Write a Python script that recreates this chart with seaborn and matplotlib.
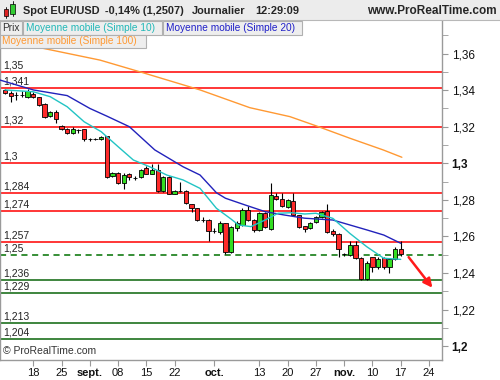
import numpy as np
import pandas as pd
import matplotlib
matplotlib.use('Agg')
import matplotlib.pyplot as plt
from matplotlib.patches import Rectangle
from matplotlib.ticker import FixedLocator, MultipleLocator
import seaborn as sns

# daily candles, EUR/USD, from 2014-08-11
start_date = '2014-08-11'
opens = [1.3401, 1.3383, 1.3373, 1.3373, 1.3364, 1.3378, 1.3360, 1.3324, 1.3260, 1.3279,
         1.3205, 1.3187, 1.3164, 1.3181, 1.3185, 1.3131, 1.3131, 1.3131, 1.3149, 1.2930,
         1.2949, 1.2890, 1.2942, 1.2921, 1.2923, 1.2976, 1.2942, 1.2963, 1.2850, 1.2927,
         1.2832, 1.2850, 1.2850, 1.2780, 1.2754, 1.2690, 1.2690, 1.2632, 1.2626, 1.2672,
         1.2515, 1.2645, 1.2663, 1.2745, 1.2690, 1.2635, 1.2726, 1.2640, 1.2821, 1.2803,
         1.2763, 1.2796, 1.2718, 1.2655, 1.2645, 1.2681, 1.2705, 1.2741, 1.2632, 1.2614,
         1.2504, 1.2499, 1.2554, 1.2481, 1.2366, 1.2486, 1.2432, 1.2481, 1.2432, 1.2475,
         1.2530]
highs = [1.3405, 1.3395, 1.3390, 1.3395, 1.3405, 1.3390, 1.3365, 1.3330, 1.3285, 1.3290,
         1.3210, 1.3195, 1.3200, 1.3190, 1.3190, 1.3140, 1.3138, 1.3150, 1.3150, 1.2955,
         1.2955, 1.2945, 1.2945, 1.2930, 1.2968, 1.2985, 1.2995, 1.2995, 1.2930, 1.2930,
         1.2855, 1.2900, 1.2855, 1.2780, 1.2756, 1.2705, 1.2695, 1.2645, 1.2685, 1.2675,
         1.2655, 1.2685, 1.2755, 1.2765, 1.2695, 1.2735, 1.2735, 1.2894, 1.2835, 1.2835,
         1.2805, 1.2835, 1.2720, 1.2660, 1.2680, 1.2710, 1.2740, 1.2775, 1.2640, 1.2620,
         1.2512, 1.2575, 1.2575, 1.2490, 1.2465, 1.2490, 1.2490, 1.2490, 1.2480, 1.2545,
         1.2577]
lows = [1.3378, 1.3335, 1.3346, 1.3360, 1.3355, 1.3355, 1.3315, 1.3250, 1.3255, 1.3220,
        1.3180, 1.3160, 1.3160, 1.3165, 1.3120, 1.3122, 1.3125, 1.3128, 1.2920, 1.2925,
        1.2885, 1.2858, 1.2910, 1.2910, 1.2918, 1.2940, 1.2940, 1.2845, 1.2845, 1.2830,
        1.2830, 1.2845, 1.2775, 1.2735, 1.2685, 1.2680, 1.2577, 1.2620, 1.2615, 1.2505,
        1.2510, 1.2630, 1.2655, 1.2685, 1.2625, 1.2630, 1.2648, 1.2635, 1.2798, 1.2760,
        1.2758, 1.2713, 1.2645, 1.2625, 1.2640, 1.2675, 1.2700, 1.2620, 1.2600, 1.2487,
        1.2495, 1.2495, 1.2475, 1.2360, 1.2360, 1.2405, 1.2425, 1.2425, 1.2398, 1.2470,
        1.2495]
closes = [1.3385, 1.3368, 1.3373, 1.3373, 1.3397, 1.3360, 1.3319, 1.3255, 1.3278, 1.3240,
          1.3186, 1.3167, 1.3186, 1.3181, 1.3131, 1.3131, 1.3131, 1.3145, 1.2927, 1.2949,
          1.2891, 1.2936, 1.2923, 1.2921, 1.2963, 1.2942, 1.2963, 1.2850, 1.2927, 1.2832,
          1.2850, 1.2850, 1.2781, 1.2754, 1.2690, 1.2690, 1.2632, 1.2632, 1.2672, 1.2517,
          1.2650, 1.2672, 1.2745, 1.2690, 1.2635, 1.2726, 1.2653, 1.2827, 1.2803, 1.2767,
          1.2799, 1.2718, 1.2650, 1.2640, 1.2672, 1.2705, 1.2736, 1.2626, 1.2614, 1.2530,
          1.2504, 1.2554, 1.2481, 1.2366, 1.2457, 1.2432, 1.2475, 1.2432, 1.2475, 1.2530,
          1.2507]

# moving averages (position in trading days, value)
ma10_pos = [0, 5, 8, 11, 14, 17, 20, 22.7, 25.6, 28.6, 31.5, 34.5, 37.4, 40, 41.3, 43.5,
            46, 48.3, 50.7, 53, 55, 58, 61, 64, 67, 70]
ma10_val = [1.3401, 1.3391, 1.3364, 1.3309, 1.3227, 1.3173, 1.3091, 1.3018, 1.2981, 1.2936,
            1.2909, 1.2863, 1.2754, 1.2695, 1.2663, 1.2654, 1.2690, 1.2727, 1.2730, 1.2723,
            1.2727, 1.2699, 1.2617, 1.2544, 1.2481, 1.2475]
ma20_pos = [-0.9, 5, 11, 15, 18, 22, 26.5, 31.5, 34.5, 37.4, 39, 42.5, 46, 49.5, 53, 58, 64, 67, 70]
ma20_val = [1.3455, 1.3401, 1.3370, 1.3300, 1.3258, 1.3200, 1.3073, 1.2981, 1.2936, 1.2839,
            1.2809, 1.2772, 1.2736, 1.2717, 1.2700, 1.2690, 1.2636, 1.2608, 1.2563]
ma100_pos = [-0.9, 6, 16.8, 24.4, 34.5, 43.3, 50.4, 55.1, 61, 66.9, 70.2]
ma100_val = [1.3700, 1.3633, 1.3564, 1.3495, 1.3401, 1.3304, 1.3255, 1.3204, 1.3137, 1.3073, 1.3033]

# horizontal levels
red_levels = [1.35, 1.341, 1.32, 1.30, 1.284, 1.274, 1.257]
red_labels = ['1,35', '1,341', '1,32', '1,3', '1,284', '1,274', '1,257']
dashed_level = 1.25
dashed_label = '1,25'
green_levels = [1.236, 1.229, 1.213, 1.204]
green_labels = ['1,236', '1,229', '1,213', '1,204']

# arrow (position, price)
arrow_start = (71.1, 1.2499)
arrow_end = (75.9, 1.2308)

y_ticks = [1.20, 1.22, 1.24, 1.26, 1.28, 1.30, 1.32, 1.34, 1.36]
y_labels = ['1,2', '1,22', '1,24', '1,26', '1,28', '1,3', '1,32', '1,34', '1,36']
x_tick_dates = ['2014-08-18', '2014-08-25', '2014-09-01', '2014-09-08', '2014-09-15',
                '2014-09-22', '2014-10-01', '2014-10-13', '2014-10-20', '2014-10-27',
                '2014-11-03', '2014-11-10', '2014-11-17', '2014-11-24']
x_tick_labels = ['18', '25', 'sept.', '08', '15', '22', 'oct.', '13', '20', '27',
                 'nov.', '10', '17', '24']

sns.set_style('white')
plt.rcParams['font.family'] = ['Liberation Sans', 'DejaVu Sans']

W, H = 500, 380
fig = plt.figure(figsize=(5, 3.8), dpi=100)

def fx(px):
    return px / W

def fy(py):
    return 1 - py / H

ax = fig.add_axes([0, fy(360), fx(442), fy(20) - fy(360)])
ax.set_xlim(-0.885, 77.3)
ax.set_ylim(1.19251, 1.37831)

# levels
for lv, lb in zip(red_levels, red_labels):
    ax.axhline(lv, color='#ff0000', lw=1.1, zorder=1)
    ax.text(0.008, lv + 0.0008, lb, transform=ax.get_yaxis_transform(), fontsize=7.5,
            color='#222222', va='bottom', ha='left', zorder=1)
ax.axhline(dashed_level, color='#007000', lw=1.1, ls=(0, (4, 3)), zorder=1)
ax.text(0.008, dashed_level + 0.0008, dashed_label, transform=ax.get_yaxis_transform(),
        fontsize=7.5, color='#222222', va='bottom', ha='left')
for lv, lb in zip(green_levels, green_labels):
    ax.axhline(lv, color='#0a640a', lw=1.1, zorder=1)
    ax.text(0.008, lv + 0.0008, lb, transform=ax.get_yaxis_transform(), fontsize=7.5,
            color='#222222', va='bottom', ha='left')

# candles
df = pd.DataFrame({'open': opens, 'high': highs, 'low': lows, 'close': closes})
df['pos'] = np.arange(len(df))
ax.vlines(df['pos'], df['low'], df['high'], color='black', lw=0.8, zorder=2)
body_bottom = df[['open', 'close']].min(axis=1)
body_h = (df['close'] - df['open']).abs()
colors = np.where(df['close'] > df['open'], '#33dd22',
                  np.where(df['close'] < df['open'], '#ff2a2a', 'black'))
ax.bar(df['pos'], body_h, bottom=body_bottom, width=0.75, color=colors,
       edgecolor='black', linewidth=0.6, zorder=3)

# moving averages
ma10 = pd.DataFrame({'pos': ma10_pos, 'val': ma10_val})
ma20 = pd.DataFrame({'pos': ma20_pos, 'val': ma20_val})
ma100 = pd.DataFrame({'pos': ma100_pos, 'val': ma100_val})
sns.lineplot(data=ma100, x='pos', y='val', ax=ax, color='#ff9933', lw=1.0, zorder=4)
sns.lineplot(data=ma20, x='pos', y='val', ax=ax, color='#2222bb', lw=1.0, zorder=4)
sns.lineplot(data=ma10, x='pos', y='val', ax=ax, color='#22c4c4', lw=1.0, zorder=4)

ax.annotate('', xy=arrow_end, xytext=arrow_start,
            arrowprops=dict(arrowstyle='-|>', color='#ff1a1a', lw=1.8, mutation_scale=13),
            zorder=5)

ax.text(0.006, 0.012, '\u00a9 ProRealTime.com', transform=ax.transAxes, fontsize=7.5,
        color='#333333', va='bottom', ha='left')

# axes styling
ax.set_xlabel('')
ax.set_ylabel('')
ax.yaxis.tick_right()
ax.yaxis.set_major_locator(FixedLocator(y_ticks))
ax.yaxis.set_minor_locator(MultipleLocator(0.01))
ax.set_yticklabels(y_labels)
for t in ax.get_yticklabels():
    if t.get_text() in ('1,3', '1,2'):
        t.set_fontweight('bold')
ax.tick_params(axis='y', which='both', right=True, left=False, length=4, color='#999999',
               labelsize=8.5, pad=3, labelcolor='#111111')

x_pos = [np.busday_count(start_date, d) for d in x_tick_dates]
ax.set_xticks(x_pos)
ax.set_xticklabels(x_tick_labels)
for t in ax.get_xticklabels():
    if t.get_text().endswith('.'):
        t.set_fontweight('bold')
ax.tick_params(axis='x', bottom=True, length=4, color='#999999', labelsize=8, pad=2,
               labelcolor='#111111')
for side in ['left', 'right', 'bottom']:
    ax.spines[side].set_color('#9a9a9a')
    ax.spines[side].set_linewidth(1.0)
ax.spines['top'].set_visible(False)
ax.grid(False)

# title bar
fig.patches.append(Rectangle((0, fy(20)), 1, fy(0) - fy(20), transform=fig.transFigure,
                             facecolor='#ececec', edgecolor='none', zorder=1))
fig.lines.append(plt.Line2D([0, 1], [fy(20), fy(20)], transform=fig.transFigure,
                            color='#b8b8b8', lw=0.8, zorder=2))
# tiny candle icon
fig.patches.append(Rectangle((fx(4), fy(16)), fx(4), fy(9) - fy(16), transform=fig.transFigure,
                             facecolor='#dd2222', edgecolor='black', lw=0.5, zorder=2))
fig.patches.append(Rectangle((fx(10), fy(14)), fx(5), fy(4) - fy(14), transform=fig.transFigure,
                             facecolor='#33cc33', edgecolor='black', lw=0.5, zorder=2))
fig.lines.append(plt.Line2D([fx(6), fx(6)], [fy(18), fy(7)], transform=fig.transFigure,
                            color='black', lw=0.6, zorder=1.5))
fig.lines.append(plt.Line2D([fx(12.5), fx(12.5)], [fy(16), fy(1)], transform=fig.transFigure,
                            color='black', lw=0.6, zorder=1.5))

title_y = fy(10.5)
fig.text(fx(23), title_y, 'Spot EUR/USD', fontsize=7.9, fontweight='bold', va='center')
fig.text(fx(105), title_y, '-0,14% (1,2507)', fontsize=7.9, fontweight='bold', va='center')
fig.text(fx(192), title_y, 'Journalier', fontsize=7.9, fontweight='bold', va='center')
fig.text(fx(255), title_y, '12:29:09', fontsize=7.9, fontweight='bold', va='center')
fig.text(fx(497), title_y, 'www.ProRealTime.com', fontsize=8.5, fontweight='bold',
         va='center', ha='right')

# indicator buttons
buttons = [(0, 22, 21, 35, 'Prix', '#333333'),
           (23, 162, 21, 35, 'Moyenne mobile (Simple 10)', '#22b8b8'),
           (163, 302, 21, 35, 'Moyenne mobile (Simple 20)', '#2020c8'),
           (0, 146, 35, 48, 'Moyenne mobile (Simple 100)', '#ff9933')]
for x0, x1, y0, y1, txt, col in buttons:
    fig.patches.append(Rectangle((fx(x0), fy(y1)), fx(x1 - x0), fy(y0) - fy(y1),
                                 transform=fig.transFigure, facecolor='#eeeeee',
                                 edgecolor='#b0b0b0', lw=0.8, zorder=5))
    fig.text(fx(x0 + 2.5), fy((y0 + y1) / 2), txt, fontsize=7.3, color=col, va='center',
             ha='left', zorder=6)

fig.savefig('out.png', dpi=100)
